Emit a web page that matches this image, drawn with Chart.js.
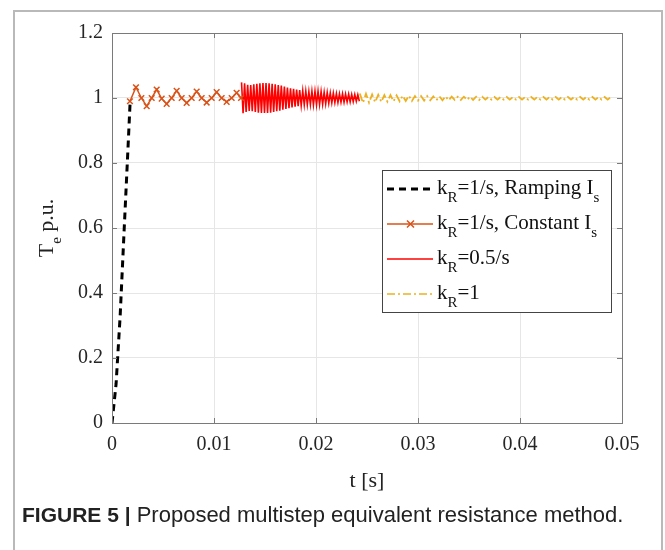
<!DOCTYPE html>
<html>
<head>
<meta charset="utf-8">
<script src="https://cdn.jsdelivr.net/npm/chart.js@4/dist/chart.umd.min.js"></script>
<style>
  html, body { margin: 0; padding: 0; background: #fff; }
  #wrap { position: relative; width: 665px; height: 550px; overflow: hidden; }
  #frame { position: absolute; left: 13px; top: 10px; width: 646px; height: 600px;
           border: 2px solid #b9b9b9; border-bottom: none; }
  #chart { position: absolute; left: 0; top: 0; }
  #caption { position: absolute; left: 22px; top: 502px; white-space: nowrap;
             font-family: 'Liberation Sans', Arial, sans-serif; font-size: 22px; color: #222; }
  #caption b { font-weight: bold; font-size: 21px; }
</style>
</head>
<body>
<div id="wrap">
  <div id="frame"></div>
  <canvas id="chart" width="665" height="550"></canvas>
  <div id="caption"><b>FIGURE 5 |</b> Proposed multistep equivalent resistance method.</div>
</div>
<script>
/* ─── Data ───────────────────────────────────────────────────────────────── */
const xTicks = [0, 0.01, 0.02, 0.03, 0.04, 0.05];
const yTicks = [0, 0.2, 0.4, 0.6, 0.8, 1, 1.2];

// k_R = 1/s, ramping Is (start-up ramp)
const blackT = [0, 0.0004, 0.0008, 0.0012, 0.0015, 0.00178];
const blackV = [0, 0.12, 0.33, 0.6, 0.8, 0.99];

// k_R = 1/s, constant Is
const orangeT = [0.00176, 0.00235, 0.00288, 0.00340, 0.00389, 0.00438, 0.00487, 0.00536,
                 0.00585, 0.00634, 0.00683, 0.00732, 0.00781, 0.00830, 0.00879, 0.00928,
                 0.00977, 0.01026, 0.01075, 0.01124, 0.01173, 0.01222, 0.01265];
const orangeV = [0.99, 1.033, 1.0, 0.975, 1.0, 1.026, 0.998, 0.982,
                 1.0, 1.022, 1.0, 0.985, 1.0, 1.02, 1.0, 0.986,
                 1.0, 1.018, 1.0, 0.988, 1.0, 1.016, 1.0];

// k_R = 0.5/s  (samples every redStep seconds from redStart)
const redStart = 0.0127, redStep = 0.00015;
const redV = [1.048, 0.953, 1.045, 0.957, 1.041, 0.960,
              1.040, 0.959, 1.042, 0.957, 1.044, 0.955, 1.045, 0.954,
              1.046, 0.954, 1.046, 0.954, 1.045, 0.955,
              1.044, 0.957, 1.042, 0.959, 1.040, 0.961,
              1.038, 0.964, 1.035, 0.966, 1.032, 0.969, 1.030, 0.971,
              1.028, 0.973, 1.026, 0.975, 1.024, 0.977, 1.022, 0.979,
              1.021, 0.980, 1.020, 0.980, 1.021, 0.979, 1.021, 0.979,
              1.021, 0.980, 1.020, 0.981, 1.018, 0.982, 1.017, 0.984,
              1.016, 0.985, 1.015, 0.986, 1.014, 0.986, 1.013, 0.987,
              1.013, 0.987, 1.012, 0.988, 1.012, 0.988, 1.011, 0.989, 1.011, 0.990, 1.010, 0.990];

// k_R = 1  (samples every yellowStep seconds from yellowStart)
const yellowStart = 0.0243, yellowStep = 0.0003;
const yellowV = [1.014, 0.985, 1.013, 0.986, 1.011, 0.987, 1.010, 0.988, 1.009, 0.989,
                 1.009, 0.990, 1.008, 0.990, 1.007, 0.991, 1.007, 0.991, 1.006, 0.992,
                 1.006, 0.992, 1.006, 0.993, 1.005, 0.993, 1.005, 0.993, 1.005, 0.993,
                 1.004, 0.994, 1.004, 0.994, 1.004, 0.994, 1.004, 0.994, 1.004, 0.994,
                 1.004, 0.995, 1.003, 0.995, 1.003, 0.995, 1.003, 0.995, 1.003, 0.995,
                 1.003, 0.995, 1.003, 0.995, 1.003, 0.995, 1.003, 0.995, 1.003, 0.995,
                 1.003, 0.995, 1.003, 0.995, 1.003, 0.995, 1.003, 0.995, 1.003, 0.995,
                 1.003, 0.995, 1.003, 0.995, 1.003, 0.995, 1.003, 0.995, 1.003, 0.995,
                 1.003, 0.995, 1.003];

const BLACK = '#000000', ORANGE = '#D95319', RED = '#FF0000', YELLOW = '#EDB120';
const SERIF = "'Liberation Serif', 'Times New Roman', serif";

/* ─── Helpers ─────────────────────────────────────────────────────────────── */
const pairs = (ts, vs) => vs.map((v, i) => ({ x: ts[i], y: v }));
const sampled = (t0, dt, vs) => vs.map((v, i) => ({ x: t0 + i * dt, y: v }));

// draw text with subscripts; parts = [[text, isSub], ...]
function richText(ctx, parts, x, y, size, measureOnly) {
  let w = 0;
  parts.forEach(([t, sub]) => {
    ctx.font = (sub ? Math.round(size * 0.7) : size) + 'px ' + SERIF;
    if (!measureOnly) ctx.fillText(t, x + w, y + (sub ? size * 0.38 : 0));
    w += ctx.measureText(t).width;
  });
  return w;
}

const legendRows = [
  { parts: [['k'], ['R', 1], ['=1/s, Ramping I'], ['s', 1]], color: BLACK, width: 3, dash: [7, 5] },
  { parts: [['k'], ['R', 1], ['=1/s, Constant I'], ['s', 1]], color: ORANGE, width: 1.5, dash: [], marker: true },
  { parts: [['k'], ['R', 1], ['=0.5/s']], color: RED, width: 1.5, dash: [] },
  { parts: [['k'], ['R', 1], ['=1']], color: YELLOW, width: 1.5, dash: [8, 3, 2, 3] },
];

const decorPlugin = {
  id: 'decor',
  afterDraw(chart) {
    const { ctx, chartArea: a, scales: { x, y } } = chart;
    ctx.save();
    // axes box + inward ticks
    ctx.strokeStyle = '#7a7a7a'; ctx.lineWidth = 1;
    ctx.strokeRect(Math.round(a.left) + 0.5, Math.round(a.top) + 0.5,
                   Math.round(a.right - a.left), Math.round(a.bottom - a.top));
    ctx.beginPath();
    xTicks.forEach(v => {
      const p = Math.round(x.getPixelForValue(v)) + 0.5;
      ctx.moveTo(p, a.bottom); ctx.lineTo(p, a.bottom - 5);
      ctx.moveTo(p, a.top); ctx.lineTo(p, a.top + 5);
    });
    yTicks.forEach(v => {
      const p = Math.round(y.getPixelForValue(v)) + 0.5;
      ctx.moveTo(a.left, p); ctx.lineTo(a.left + 5, p);
      ctx.moveTo(a.right, p); ctx.lineTo(a.right - 5, p);
    });
    ctx.stroke();

    // legend
    const lx = 382, ly = 170, lw = 229, lh = 142;
    ctx.fillStyle = '#fff'; ctx.fillRect(lx, ly, lw, lh);
    ctx.strokeStyle = '#444'; ctx.strokeRect(lx + 0.5, ly + 0.5, lw, lh);
    ctx.textBaseline = 'alphabetic';
    legendRows.forEach((r, i) => {
      const base = 194 + i * 35, mid = base - 5;
      ctx.strokeStyle = r.color; ctx.lineWidth = r.width; ctx.setLineDash(r.dash);
      ctx.beginPath(); ctx.moveTo(387, mid); ctx.lineTo(433, mid); ctx.stroke();
      ctx.setLineDash([]);
      if (r.marker) {
        ctx.lineWidth = 1.5; ctx.beginPath();
        ctx.moveTo(407, mid - 3.5); ctx.lineTo(414, mid + 3.5);
        ctx.moveTo(414, mid - 3.5); ctx.lineTo(407, mid + 3.5); ctx.stroke();
      }
      ctx.fillStyle = '#111';
      richText(ctx, r.parts, 437, base, 21);
    });

    // axis titles
    ctx.fillStyle = '#222';
    ctx.textAlign = 'left';
    const xt = [['t [s]']];
    const xw = richText(ctx, xt, 0, 0, 22, true);
    richText(ctx, xt, 367 - xw / 2, 487, 22);
    const yt = [['T'], ['e', 1], [' p.u.']];
    const yw = richText(ctx, yt, 0, 0, 22, true);
    ctx.translate(53, 228); ctx.rotate(-Math.PI / 2);
    richText(ctx, yt, -yw / 2, 0, 22);
    ctx.restore();
  },
};

/* ─── Chart ───────────────────────────────────────────────────────────────── */
Chart.defaults.font.family = SERIF;
Chart.defaults.color = '#262626';

new Chart(document.getElementById('chart'), {
  type: 'line',
  data: {
    datasets: [
      { data: pairs(blackT, blackV), borderColor: BLACK, borderWidth: 3, borderDash: [7, 5],
        pointRadius: 0, tension: 0 },
      { data: pairs(orangeT, orangeV), borderColor: ORANGE, borderWidth: 1.5,
        pointStyle: 'crossRot', pointRadius: 4, pointBorderColor: ORANGE, pointBorderWidth: 1.5, tension: 0 },
      { data: sampled(redStart, redStep, redV), borderColor: RED, borderWidth: 1.6,
        pointRadius: 0, tension: 0 },
      { data: sampled(yellowStart, yellowStep, yellowV), borderColor: YELLOW, borderWidth: 1.8,
        borderDash: [8, 3, 2, 3], pointRadius: 0, tension: 0 },
    ],
  },
  options: {
    responsive: false, animation: false,
    layout: { padding: { left: 0, top: 33, right: 43, bottom: 0 } },
    plugins: { legend: { display: false }, tooltip: { enabled: false } },
    scales: {
      x: {
        type: 'linear', min: 0, max: 0.05,
        afterBuildTicks: s => { s.ticks = xTicks.map(v => ({ value: v })); },
        afterFit: s => { s.height = 127; },
        grid: { color: '#e6e6e6', drawTicks: false },
        border: { display: false },
        ticks: { font: { size: 20 }, padding: 10, maxRotation: 0,
                 callback: v => String(+v.toFixed(2)) },
      },
      y: {
        min: 0, max: 1.2,
        afterBuildTicks: s => { s.ticks = yTicks.map(v => ({ value: v })); },
        afterFit: s => { s.width = 112; },
        grid: { color: '#e6e6e6', drawTicks: false },
        border: { display: false },
        ticks: { font: { size: 20 }, padding: 9,
                 callback: v => String(+v.toFixed(1)) },
      },
    },
  },
  plugins: [decorPlugin],
});
</script>
</body>
</html>
